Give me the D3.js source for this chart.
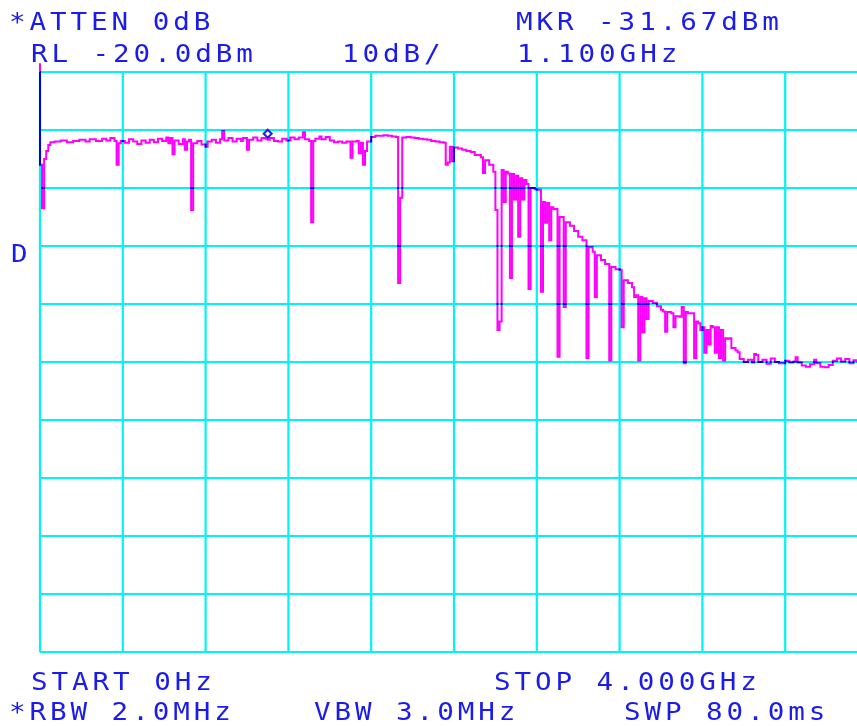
<!DOCTYPE html>
<html>
<head>
<meta charset="utf-8">
<script src="https://cdn.jsdelivr.net/npm/d3@7"></script>
<style>
  html, body { margin: 0; padding: 0; background: #ffffff; overflow: hidden; }
  svg { display: block; }
  .lbl { font-family: "DejaVu Sans Mono", "Liberation Mono", monospace; font-size: 24px; fill: #1c1ce8; letter-spacing: 3.4px; }
</style>
</head>
<body>
<svg id="screen" width="857" height="726"></svg>
<script>
// Sweep settings
const startGHz = 0;
const stopGHz = 4;
const refLevel = -20;      // dBm at top graticule line
const dbPerDiv = 10;
const divisions = 10;
const markerFreq = 1.1;    // GHz
const markerLevel = -31.67; // dBm

// Trace, [frequency GHz, level dBm]: flat passband
const tracePassband = [
  [0.00,-18.5],[0.00,-36.0],[0.01,-43.5],[0.02,-35.0],[0.03,-33.6],[0.04,-32.6],[0.05,-32.1],
  [0.07,-32.0],[0.10,-31.8],[0.13,-32.1],[0.16,-31.9],[0.19,-31.7],[0.22,-32.0],[0.24,-31.6],
  [0.27,-31.9],[0.30,-31.5],[0.32,-31.8],[0.34,-31.4],[0.36,-31.9],[0.37,-36.0],[0.38,-32.3],
  [0.39,-31.9],[0.41,-32.2],[0.43,-31.6],[0.45,-32.0],[0.47,-32.4],[0.49,-31.8],[0.51,-32.2],
  [0.53,-31.7],[0.55,-32.1],[0.57,-31.5],[0.59,-31.9],[0.61,-31.3],[0.62,-32.3],[0.63,-31.4],
  [0.64,-34.2],[0.65,-31.8],[0.67,-32.4],[0.69,-31.6],[0.70,-33.4],[0.71,-32.0],[0.72,-31.7],
  [0.73,-43.8],[0.74,-32.3],[0.76,-31.9],[0.78,-32.5],[0.80,-32.9],[0.81,-32.0],[0.83,-31.7],
  [0.85,-32.2],[0.87,-31.6],[0.88,-30.2],[0.89,-31.8],[0.91,-31.4],[0.93,-32.0],[0.95,-31.5],
  [0.97,-31.9],[0.98,-31.4],[1.00,-33.4],[1.01,-31.7],[1.03,-31.3],[1.05,-31.8],[1.07,-31.4],
  [1.09,-31.5],[1.10,-31.67],[1.11,-31.4],[1.13,-31.9],[1.15,-32.0],[1.17,-31.5],[1.19,-31.8],
  [1.21,-31.3],[1.23,-31.6],[1.25,-31.3],[1.27,-30.4],[1.28,-31.6],[1.30,-31.9],[1.31,-45.9],
  [1.32,-31.9],[1.33,-31.5],[1.35,-31.1],[1.36,-31.6],[1.38,-31.2],[1.40,-31.8],[1.42,-32.1],
  [1.44,-32.0],[1.46,-32.2],[1.48,-32.0],[1.50,-34.8],[1.51,-32.0],[1.53,-31.9],[1.54,-34.0],
  [1.55,-32.2],[1.56,-36.0],[1.57,-33.6],[1.58,-32.0],[1.60,-31.2],[1.62,-31.0],[1.64,-31.0],
  [1.66,-30.9],[1.68,-31.0],[1.70,-31.1],[1.72,-31.2],[1.73,-56.4],[1.74,-41.7],[1.75,-31.3],
  [1.77,-31.2],[1.79,-31.3],[1.81,-31.4],[1.83,-31.5],[1.85,-31.6],[1.87,-31.7],[1.89,-31.9],
  [1.91,-32.0],[1.93,-32.1],[1.95,-32.2],[1.96,-36.0],[1.97,-35.6],[1.98,-32.9],[1.99,-35.4]
];

// Trace: filter skirt
const traceRolloff = [
  [2.00,-33.0],[2.02,-33.2],[2.04,-33.4],[2.06,-33.6],[2.08,-33.8],[2.10,-34.3],[2.13,-34.7],
  [2.14,-37.4],[2.15,-35.2],[2.17,-36.0],[2.19,-37.2],[2.20,-43.8],[2.21,-64.5],[2.22,-63.0],
  [2.23,-36.9],[2.24,-42.4],[2.25,-37.2],[2.26,-37.5],[2.27,-55.5],[2.28,-37.6],[2.29,-42.0],
  [2.30,-37.9],[2.31,-48.4],[2.32,-38.3],[2.33,-42.0],[2.34,-38.6],[2.35,-39.3],[2.36,-57.4],
  [2.37,-40.0],[2.39,-40.2],[2.40,-40.3],[2.42,-57.9],[2.43,-42.4],[2.44,-46.0],[2.45,-42.6],
  [2.46,-49.0],[2.47,-43.3],[2.48,-43.6],[2.50,-69.1],[2.51,-45.0],[2.52,-45.0],[2.53,-60.5],
  [2.54,-45.9],[2.56,-46.5],[2.58,-47.4],[2.60,-48.4],[2.62,-49.0],[2.64,-69.3],[2.65,-50.2],
  [2.67,-51.0],[2.68,-58.8],[2.69,-51.6],[2.71,-52.4],[2.73,-53.1],[2.75,-69.7],[2.76,-53.6],
  [2.78,-54.0],[2.80,-54.1],[2.81,-64.0],[2.82,-55.9],[2.84,-56.4],[2.86,-57.1],[2.87,-58.8],
  [2.88,-58.5],[2.89,-69.7],[2.90,-58.8],[2.91,-64.9],[2.92,-59.0],[2.93,-62.6],[2.94,-59.5],
  [2.96,-59.8],[2.98,-60.4],[3.00,-61.0],[3.01,-61.3],[3.02,-64.8],[3.03,-61.4],[3.05,-61.6],
  [3.06,-64.0],[3.07,-62.1],[3.09,-62.2],[3.10,-60.5],[3.11,-70.2],[3.12,-61.4],[3.13,-61.6],
  [3.15,-61.6],[3.16,-69.3],[3.17,-63.0],[3.18,-63.3],[3.19,-64.5],[3.20,-64.0],[3.21,-68.4],
  [3.22,-64.5],[3.23,-67.0],[3.24,-63.8],[3.25,-64.0],[3.26,-68.4],[3.27,-64.0],[3.28,-69.3],
  [3.29,-64.5],[3.30,-69.7],[3.31,-65.9],[3.32,-66.0],[3.33,-65.9],[3.34,-67.6],[3.36,-68.0],
  [3.37,-68.3]
];

// Trace: noise floor
const traceFloor = [
  [3.38,-69.5],[3.40,-70.0],[3.42,-69.6],[3.44,-70.1],[3.45,-68.6],[3.46,-68.8],[3.47,-70.0],
  [3.49,-69.6],[3.51,-70.3],[3.53,-69.4],[3.55,-70.0],[3.57,-70.2],[3.60,-69.8],[3.62,-70.1],
  [3.64,-69.9],[3.65,-69.2],[3.66,-70.1],[3.68,-70.6],[3.70,-70.8],[3.72,-70.4],[3.74,-69.6],
  [3.75,-70.2],[3.77,-70.8],[3.79,-70.9],[3.81,-70.5],[3.83,-69.8],[3.85,-69.4],[3.87,-69.9],
  [3.89,-69.5],[3.91,-70.2],[3.93,-69.7],[3.95,-70.0],[3.97,-69.8],[4.00,-70.1]
];

// Annotation text
const attenLabel = "*ATTEN 0dB";
const refLabel = `RL ${refLevel.toFixed(1)}dBm`;
const scaleLabel = `${dbPerDiv}dB/`;
const markerLabel = `MKR ${markerLevel.toFixed(2)}dBm`;
const markerFreqLabel = `${markerFreq.toFixed(3)}GHz`;
const startLabel = `START ${startGHz}Hz`;
const stopLabel = `STOP ${stopGHz.toFixed(3)}GHz`;
const rbwLabel = "*RBW 2.0MHz";
const vbwLabel = "VBW 3.0MHz";
const sweepLabel = "SWP 80.0ms";
const detectorLabel = "D";

const svg = d3.select("#screen");
const x = d3.scaleLinear().domain([startGHz, stopGHz]).range([40, 868]);
const y = d3.scaleLinear().domain([refLevel - divisions * dbPerDiv, refLevel]).range([652, 72]);

// Graticule
const grid = svg.append("g").attr("stroke", "#00f4f4").attr("stroke-width", 2.2);
const fTicks = d3.range(divisions + 1).map(i => startGHz + i * (stopGHz - startGHz) / divisions);
const dbTicks = d3.range(divisions + 1).map(i => refLevel - i * dbPerDiv);
grid.selectAll("line.v").data(fTicks).join("line").attr("class", "v")
  .attr("x1", d => x(d)).attr("x2", d => x(d)).attr("y1", y.range()[1]).attr("y2", y.range()[0]);
grid.selectAll("line.h").data(dbTicks).join("line").attr("class", "h")
  .attr("x1", x.range()[0]).attr("x2", x.range()[1]).attr("y1", d => y(d)).attr("y2", d => y(d));

// Trace (multiplied over the graticule, so crossings turn blue)
const trace = tracePassband.concat(traceRolloff, traceFloor);
const line = d3.line().x(d => x(d[0])).y(d => y(d[1])).curve(d3.curveStepAfter);
svg.append("path").datum(trace)
  .attr("d", line)
  .attr("fill", "none")
  .attr("stroke", "#ff00ff")
  .attr("stroke-width", 2)
  .style("mix-blend-mode", "multiply");

// Marker symbol just above the trace point
const mx = x(markerFreq), my = y(markerLevel) - 6;
svg.append("path")
  .attr("d", `M${mx},${my - 4}L${mx + 4},${my}L${mx},${my + 4}L${mx - 4},${my}Z`)
  .attr("fill", "none").attr("stroke", "#1c1ce8").attr("stroke-width", 2);

// Screen annotations
const textLayout = [
  [attenLabel, 9, 29.5],
  [markerLabel, 516, 29.5],
  [refLabel, 31, 62],
  [scaleLabel, 342, 62],
  [markerFreqLabel, 517, 62],
  [detectorLabel, 11, 262],
  [startLabel, 31, 690],
  [stopLabel, 494, 690],
  [rbwLabel, 9, 720],
  [vbwLabel, 314, 720],
  [sweepLabel, 624, 720]
];
svg.append("g").selectAll("g").data(textLayout).join("g")
  .attr("transform", d => `translate(${d[1]},${d[2]}) scale(1.15,1)`)
  .append("text").attr("class", "lbl").text(d => d[0]);
</script>
</body>
</html>
